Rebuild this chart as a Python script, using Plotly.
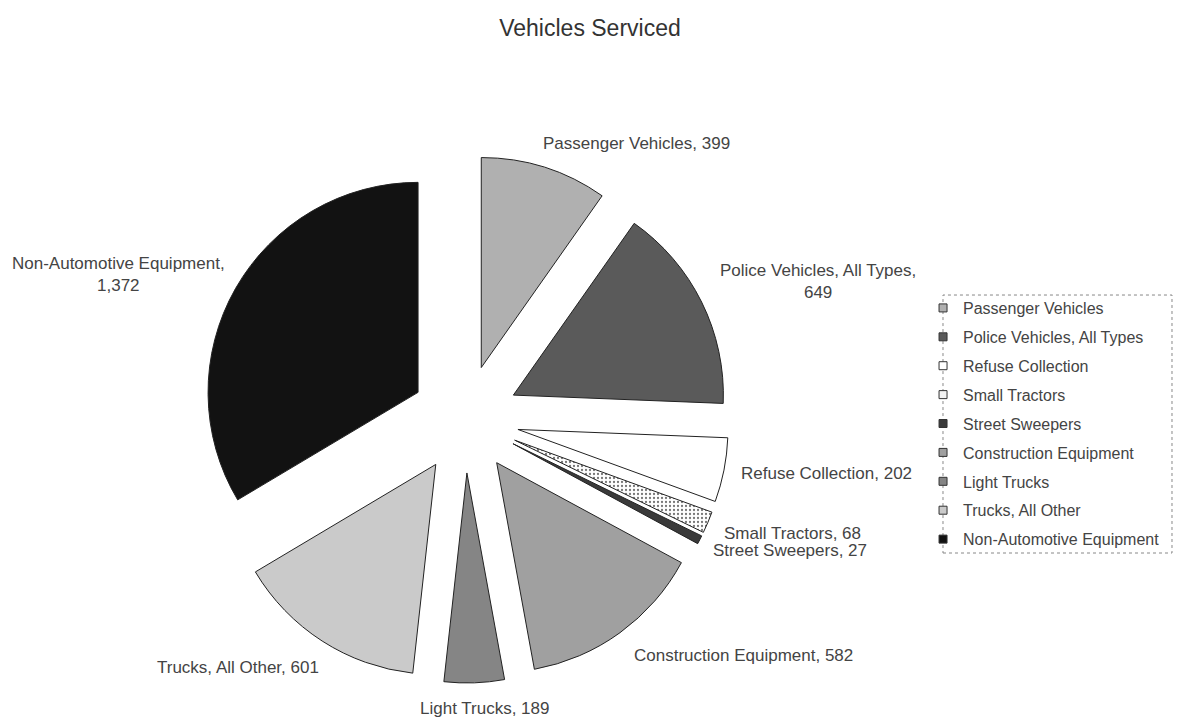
import plotly.graph_objects as go

# data
categories = [
    'Passenger Vehicles',
    'Police Vehicles, All Types',
    'Refuse Collection',
    'Small Tractors',
    'Street Sweepers',
    'Construction Equipment',
    'Light Trucks',
    'Trucks, All Other',
    'Non-Automotive Equipment',
]
vehicles = [399, 649, 202, 68, 27, 582, 189, 601, 1372]

# grayscale fills standing in for the printed textures
fills = ['#b0b0b0', '#5a5a5a', '#ffffff', '#f2f2f2', '#3a3a3a',
         '#a0a0a0', '#858585', '#cacaca', '#121212']
patterns = ['', '', '', '.', '', '', '', '', '']

# where the data labels sit (screen pixels, centre of the text block)
label_x_px = [636, 818, 826, 792, 790, 743, 484, 238, 118]
label_y_px = [143, 281, 473, 533, 550, 655, 708, 667, 274]

W, H, OFF = 1181, 719, 8
font_family = 'Liberation Sans, Arial, sans-serif'


def px_to_paper(sx, sy):
    return (sx - OFF) / W, 1 - (sy - OFF) / H


fig = go.Figure()

fig.add_trace(
    go.Pie(
        labels=categories,
        values=vehicles,
        textinfo='none',
        sort=False,
        direction='clockwise',
        rotation=0,
        pull=0.257,
        marker=dict(
            colors=fills,
            line=dict(color='#222222', width=1),
            pattern=dict(shape=patterns, fgcolor='#777777', size=4, solidity=0.25),
        ),
        domain=dict(x=[0.1634, 0.6105], y=[0.0612, 0.7955]),
        showlegend=False,
        hoverinfo='label+value+percent',
    )
)

# legend entries as empty marker traces so the row spacing can match the box
for cat, col in zip(categories, fills):
    fig.add_trace(
        go.Scatter(
            x=[None], y=[None],
            mode='markers',
            name=cat,
            legendgroup=cat,
            marker=dict(symbol='square', size=8, color=col,
                        line=dict(color='#333333', width=1)),
        )
    )

# data labels, long names wrap after the comma
annotations = []
for cat, val, sx, sy in zip(categories, vehicles, label_x_px, label_y_px):
    sep = ',<br>' if len(cat) >= 24 else ', '
    ax, ay = px_to_paper(sx, sy)
    annotations.append(dict(
        text=f'{cat}{sep}{val:,}',
        x=ax, y=ay, xref='paper', yref='paper',
        xanchor='center', yanchor='middle',
        showarrow=False, align='center',
        font=dict(family=font_family, size=17, color='#444444'),
    ))

fig.update_layout(
    width=W,
    height=H,
    paper_bgcolor='white',
    plot_bgcolor='white',
    margin=dict(l=0, r=0, t=0, b=0, autoexpand=False),
    title=dict(
        text='Vehicles Serviced',
        x=0.4928, xanchor='center',
        y=0.972, yanchor='middle',
        font=dict(family=font_family, size=23, color='#333333'),
    ),
    font=dict(family=font_family, size=16, color='#444444'),
    xaxis=dict(visible=False),
    yaxis=dict(visible=False),
    annotations=annotations,
    legend=dict(
        x=0.7748, xanchor='left',
        y=0.4214, yanchor='middle',
        tracegroupgap=5.1,
        font=dict(family=font_family, size=16, color='#444444'),
        bgcolor='rgba(0,0,0,0)',
    ),
    shapes=[
        dict(type='rect', xref='paper', yref='paper',
             x0=0.7917, x1=0.9856, y0=0.242, y1=0.6008,
             line=dict(color='#888888', width=1, dash='dot'),
             fillcolor='rgba(0,0,0,0)', layer='below'),
    ],
)

fig.write_html('out.html')
